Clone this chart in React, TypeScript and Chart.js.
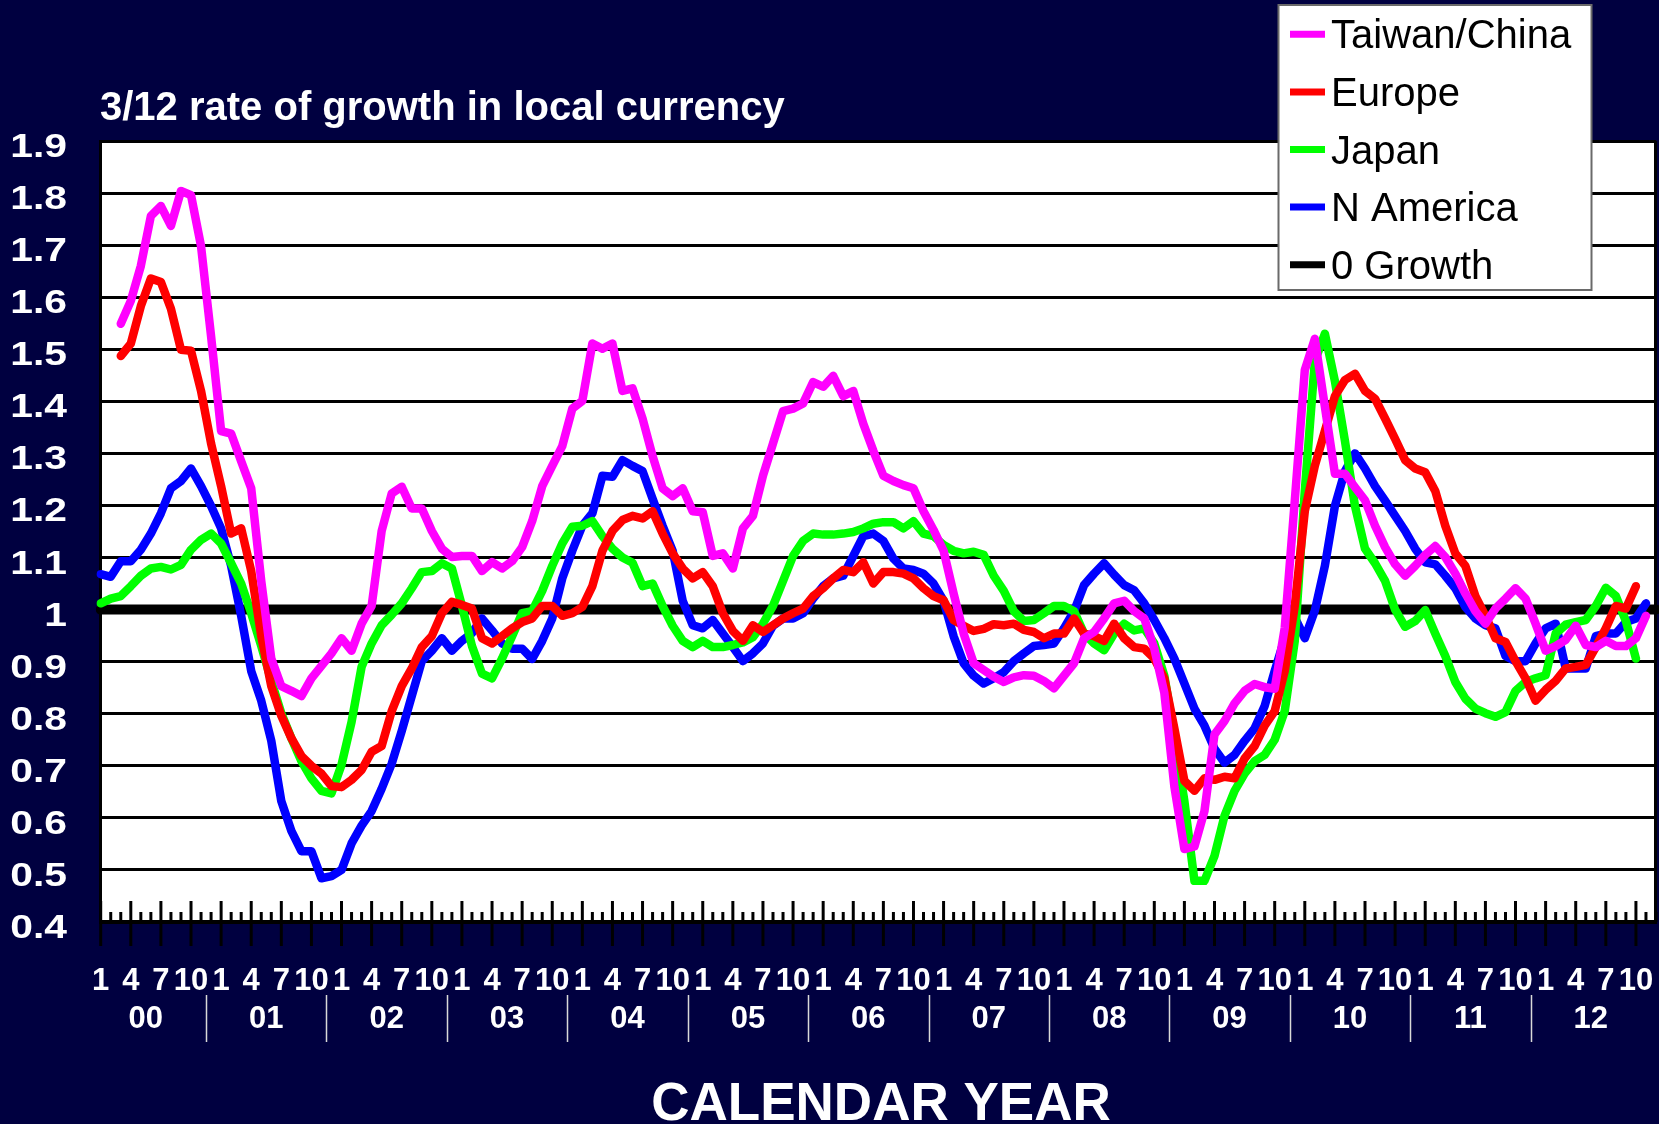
import React, { useEffect, useRef } from 'react';
import { Chart, registerables } from 'chart.js';

Chart.register(...registerables);

// ---------------- data ----------------
const years = ['00', '01', '02', '03', '04', '05', '06', '07', '08', '09', '10', '11', '12'];
const monthNumbers = [1, 2, 3, 4, 5, 6, 7, 8, 9, 10, 11, 12];
const labelledMonths = [1, 4, 7, 10];
const categories = years.flatMap((y) => monthNumbers.map((m) => `${m}/${y}`));

const yAxisMin = 0.4;
const yAxisMax = 1.9;
const yAxisStep = 0.1;
const zeroGrowthLevel = 1;

const titleText = '3/12 rate of growth in local currency';
const xAxisTitle = 'CALENDAR YEAR';

const taiwanChina = [
  null, null, 1.549, 1.593, 1.660, 1.756, 1.775, 1.737, 1.804, 1.796, 1.698, 1.525,
  1.343, 1.338, 1.285, 1.233, 1.055, 0.906, 0.853, 0.844, 0.834, 0.868, 0.892, 0.916,
  0.945, 0.921, 0.973, 1.007, 1.151, 1.223, 1.236, 1.194, 1.194, 1.151, 1.117, 1.101,
  1.103, 1.103, 1.074, 1.091, 1.079, 1.093, 1.120, 1.170, 1.237, 1.276, 1.314, 1.386,
  1.401, 1.511, 1.501, 1.511, 1.420, 1.425, 1.367, 1.295, 1.233, 1.218, 1.233, 1.189,
  1.187, 1.103, 1.108, 1.079, 1.156, 1.180, 1.257, 1.319, 1.381, 1.386, 1.396, 1.437,
  1.428, 1.449, 1.410, 1.420, 1.357, 1.305, 1.257, 1.247, 1.239, 1.233, 1.189, 1.153,
  1.113, 1.031, 0.954, 0.897, 0.884, 0.871, 0.861, 0.870, 0.874, 0.873, 0.863, 0.849,
  0.873, 0.897, 0.945, 0.957, 0.983, 1.012, 1.017, 0.997, 0.983, 0.925, 0.840, 0.660,
  0.540, 0.545, 0.613, 0.760, 0.786, 0.820, 0.844, 0.857, 0.851, 0.848, 0.965, 1.209,
  1.460, 1.520, 1.390, 1.261, 1.261, 1.235, 1.210, 1.161, 1.120, 1.087, 1.065, 1.084,
  1.105, 1.122, 1.101, 1.069, 1.031, 0.997, 0.973, 1.002, 1.021, 1.041, 1.021, 0.973,
  0.921, 0.930, 0.942, 0.969, 0.932, 0.928, 0.940, 0.930, 0.930, 0.945, 0.988, null,
];

const europe = [
  null, null, 1.487, 1.511, 1.583, 1.636, 1.629, 1.578, 1.499, 1.497, 1.420, 1.319,
  1.237, 1.146, 1.156, 1.074, 0.949, 0.853, 0.796, 0.753, 0.719, 0.700, 0.685, 0.661,
  0.659, 0.673, 0.692, 0.727, 0.738, 0.805, 0.853, 0.887, 0.928, 0.949, 0.993, 1.015,
  1.009, 1.002, 0.945, 0.935, 0.949, 0.964, 0.976, 0.983, 1.007, 1.007, 0.988, 0.993,
  1.005, 1.045, 1.113, 1.151, 1.172, 1.180, 1.175, 1.189, 1.146, 1.108, 1.079, 1.060,
  1.072, 1.045, 0.993, 0.959, 0.940, 0.970, 0.957, 0.970, 0.983, 0.993, 1.002, 1.026,
  1.041, 1.060, 1.076, 1.072, 1.091, 1.050, 1.072, 1.072, 1.069, 1.060, 1.041, 1.026,
  1.018, 0.980, 0.969, 0.959, 0.963, 0.972, 0.970, 0.973, 0.961, 0.957, 0.945, 0.954,
  0.954, 0.983, 0.954, 0.949, 0.940, 0.973, 0.945, 0.928, 0.925, 0.906, 0.868, 0.772,
  0.671, 0.652, 0.676, 0.673, 0.679, 0.676, 0.714, 0.738, 0.777, 0.805, 0.882, 1.007,
  1.189, 1.276, 1.343, 1.410, 1.441, 1.453, 1.420, 1.405, 1.367, 1.328, 1.287, 1.271,
  1.264, 1.228, 1.161, 1.108, 1.084, 1.026, 0.988, 0.945, 0.938, 0.901, 0.868, 0.825,
  0.846, 0.863, 0.887, 0.890, 0.894, 0.928, 0.964, 1.007, 1.002, 1.045, null, null,
];

const japan = [
  1.012, 1.021, 1.026, 1.045, 1.065, 1.079, 1.082, 1.077, 1.086, 1.115, 1.134, 1.146,
  1.127, 1.089, 1.050, 0.993, 0.930, 0.863, 0.801, 0.753, 0.709, 0.676, 0.652, 0.647,
  0.702, 0.784, 0.890, 0.935, 0.970, 0.990, 1.012, 1.041, 1.072, 1.074, 1.089, 1.079,
  1.007, 0.930, 0.877, 0.868, 0.906, 0.949, 0.993, 0.997, 1.036, 1.084, 1.127, 1.159,
  1.161, 1.170, 1.141, 1.117, 1.100, 1.090, 1.045, 1.050, 1.007, 0.969, 0.940, 0.928,
  0.940, 0.928, 0.928, 0.932, 0.937, 0.947, 0.973, 1.007, 1.055, 1.103, 1.132, 1.146,
  1.144, 1.144, 1.146, 1.149, 1.156, 1.165, 1.168, 1.168, 1.156, 1.170, 1.146, 1.141,
  1.124, 1.113, 1.108, 1.111, 1.105, 1.065, 1.036, 0.997, 0.978, 0.980, 0.993, 1.007,
  1.007, 0.997, 0.954, 0.935, 0.922, 0.954, 0.973, 0.960, 0.964, 0.935, 0.873, 0.757,
  0.632, 0.479, 0.479, 0.527, 0.604, 0.652, 0.685, 0.709, 0.721, 0.750, 0.805, 0.940,
  1.228, 1.477, 1.530, 1.439, 1.324, 1.199, 1.117, 1.089, 1.055, 1.000, 0.967, 0.978,
  0.999, 0.954, 0.911, 0.861, 0.829, 0.810, 0.801, 0.794, 0.803, 0.844, 0.861, 0.868,
  0.874, 0.954, 0.971, 0.976, 0.980, 1.007, 1.042, 1.026, 0.978, 0.906, null, null,
];

const nAmerica = [
  1.068, 1.063, 1.093, 1.093, 1.115, 1.146, 1.185, 1.233, 1.247, 1.271, 1.237, 1.199,
  1.156, 1.084, 0.988, 0.882, 0.825, 0.748, 0.632, 0.575, 0.536, 0.536, 0.484, 0.488,
  0.500, 0.551, 0.585, 0.613, 0.656, 0.704, 0.767, 0.834, 0.901, 0.921, 0.945, 0.921,
  0.940, 0.955, 0.983, 0.960, 0.935, 0.925, 0.925, 0.905, 0.940, 0.983, 1.060, 1.113,
  1.161, 1.185, 1.257, 1.255, 1.287, 1.276, 1.266, 1.213, 1.161, 1.113, 1.017, 0.970,
  0.964, 0.980, 0.954, 0.928, 0.901, 0.916, 0.935, 0.969, 0.983, 0.983, 0.993, 1.021,
  1.045, 1.060, 1.065, 1.103, 1.141, 1.146, 1.132, 1.098, 1.079, 1.076, 1.069, 1.050,
  1.017, 0.949, 0.897, 0.873, 0.858, 0.868, 0.880, 0.901, 0.916, 0.930, 0.932, 0.935,
  0.964, 0.997, 1.047, 1.069, 1.089, 1.067, 1.047, 1.037, 1.012, 0.980, 0.945, 0.906,
  0.858, 0.810, 0.777, 0.733, 0.706, 0.721, 0.748, 0.772, 0.815, 0.882, 0.945, 0.985,
  0.945, 0.998, 1.084, 1.199, 1.266, 1.300, 1.271, 1.237, 1.209, 1.180, 1.151, 1.117,
  1.091, 1.087, 1.065, 1.041, 1.005, 0.983, 0.970, 0.964, 0.911, 0.901, 0.901, 0.935,
  0.964, 0.973, 0.887, 0.887, 0.887, 0.949, 0.954, 0.954, 0.976, 0.983, 1.012, null,
];

const zeroGrowth = categories.map(() => zeroGrowthLevel);

// ---------------- styles ----------------
const NAVY = '#000040';
const FONT = '"Liberation Sans", Arial, Helvetica, sans-serif';

const seriesDefs = [
  { label: 'Taiwan/China', data: taiwanChina, color: '#FF00FF', width: 8.5 },
  { label: 'Europe', data: europe, color: '#FF0000', width: 8.5 },
  { label: 'Japan', data: japan, color: '#00FF00', width: 8.5 },
  { label: 'N America', data: nAmerica, color: '#0000FF', width: 8.5 },
  { label: '0 Growth', data: zeroGrowth, color: '#000000', width: 10 },
];

const fmt = (v: number) => String(Number(v.toFixed(1)));

const decorPlugin = {
  id: 'decor',
  beforeDraw(chart: any) {
    const { ctx, chartArea: a } = chart;
    ctx.save();
    ctx.fillStyle = NAVY;
    ctx.fillRect(0, 0, chart.width, chart.height);
    ctx.fillStyle = '#ffffff';
    ctx.fillRect(a.left, a.top, a.right - a.left, a.bottom - a.top);
    ctx.restore();
  },
  afterDraw(chart: any) {
    const { ctx, chartArea: a } = chart;
    const xs = chart.scales.x;
    const ys = chart.scales.y;
    ctx.save();

    // right border of plot
    ctx.strokeStyle = '#000000';
    ctx.lineWidth = 3;
    ctx.beginPath();
    ctx.moveTo(a.right - 0.5, a.top);
    ctx.lineTo(a.right - 0.5, a.bottom + 2);
    ctx.stroke();

    // monthly tick marks
    ctx.lineWidth = 3;
    categories.forEach((_, i) => {
      const px = xs.getPixelForValue(i);
      const m = monthNumbers[i % 12];
      const major = labelledMonths.includes(m);
      ctx.beginPath();
      if (major) {
        ctx.moveTo(px, a.bottom - 21);
        ctx.lineTo(px, a.bottom + 24);
      } else {
        ctx.moveTo(px, a.bottom - 10);
        ctx.lineTo(px, a.bottom);
      }
      ctx.stroke();
    });

    // month labels
    ctx.fillStyle = '#ffffff';
    ctx.font = `bold 31px ${FONT}`;
    ctx.textAlign = 'center';
    ctx.textBaseline = 'alphabetic';
    categories.forEach((_, i) => {
      const m = monthNumbers[i % 12];
      if (!labelledMonths.includes(m)) return;
      ctx.fillText(String(m), xs.getPixelForValue(i), a.bottom + 68);
    });

    // year labels and separators
    years.forEach((y, k) => {
      ctx.fillStyle = '#ffffff';
      ctx.fillText(y, xs.getPixelForValue(k * 12 + 4.5), a.bottom + 106);
      if (k < years.length - 1) {
        const sx = Math.round(xs.getPixelForValue(k * 12 + 10.5)) + 0.5;
        ctx.strokeStyle = '#d8d8d8';
        ctx.lineWidth = 1.5;
        ctx.beginPath();
        ctx.moveTo(sx, a.bottom + 73);
        ctx.lineTo(sx, a.bottom + 120);
        ctx.stroke();
      }
    });

    // y labels (slightly stretched as in the original)
    ctx.fillStyle = '#ffffff';
    ctx.font = `bold 34px ${FONT}`;
    ctx.textAlign = 'right';
    ys.ticks.forEach((t: any) => {
      const py = ys.getPixelForValue(t.value);
      ctx.save();
      ctx.translate(67, py + 16);
      ctx.scale(1.2, 1);
      ctx.fillText(fmt(t.value), 0, 0);
      ctx.restore();
    });

    // title
    ctx.textAlign = 'left';
    ctx.font = `bold 40px ${FONT}`;
    ctx.fillText(titleText, 100, 120);

    // x axis title
    ctx.textAlign = 'center';
    ctx.font = `bold 53px ${FONT}`;
    ctx.fillText(xAxisTitle, 881, 1120);

    // legend
    const lx = 1278.5, ly = 5, lw = 313, lh = 285;
    ctx.fillStyle = '#ffffff';
    ctx.fillRect(lx, ly, lw, lh);
    ctx.strokeStyle = '#6a6a6a';
    ctx.lineWidth = 2;
    ctx.strokeRect(lx, ly, lw, lh);
    ctx.font = `40px ${FONT}`;
    ctx.textAlign = 'left';
    chart.data.datasets.forEach((ds: any, k: number) => {
      const base = 48.3 + k * 57.6;
      ctx.strokeStyle = ds.borderColor;
      ctx.lineWidth = 7;
      ctx.lineCap = 'butt';
      ctx.beginPath();
      ctx.moveTo(1290, base - 14);
      ctx.lineTo(1325, base - 14);
      ctx.stroke();
      ctx.fillStyle = '#000000';
      ctx.fillText(ds.label, 1331, base);
    });

    ctx.restore();
  },
};

export default function App() {
  const ref = useRef<HTMLCanvasElement | null>(null);

  useEffect(() => {
    document.body.style.margin = '0';
    const canvas = ref.current;
    if (!canvas) return;
    const chart = new Chart(canvas, {
      type: 'line',
      data: {
        labels: categories,
        datasets: seriesDefs.map((s) => ({
          label: s.label,
          data: s.data as (number | null)[],
          borderColor: s.color,
          backgroundColor: s.color,
          borderWidth: s.width,
          pointRadius: 0,
          pointHoverRadius: 0,
          tension: 0,
          fill: false,
          spanGaps: false,
          borderJoinStyle: 'round' as const,
          borderCapStyle: 'round' as const,
        })),
      },
      options: {
        animation: false,
        responsive: false,
        devicePixelRatio: 1,
        events: [],
        layout: { padding: { top: 141, right: 3, left: 0, bottom: 0 } },
        plugins: {
          legend: { display: false },
          title: { display: false },
          tooltip: { enabled: false },
        },
        scales: {
          x: {
            type: 'category',
            offset: false,
            grid: { display: false, drawTicks: false },
            border: { display: true, color: '#000000', width: 4 },
            ticks: { display: false, autoSkip: false },
            afterFit: (scale: any) => {
              scale.height = 202;
            },
          },
          y: {
            type: 'linear',
            min: yAxisMin,
            max: yAxisMax,
            ticks: { display: false, stepSize: yAxisStep },
            grid: { color: '#000000', lineWidth: 3, drawTicks: false },
            border: { display: true, color: '#000000', width: 3 },
            afterFit: (scale: any) => {
              scale.width = 100.7;
            },
          },
        },
      },
      plugins: [decorPlugin],
    });
    return () => chart.destroy();
  }, []);

  return (
    <div style={{ position: 'fixed', left: 0, top: 0, width: 1659, height: 1124, background: NAVY }}>
      <canvas ref={ref} width={1659} height={1124} style={{ display: 'block', width: 1659, height: 1124 }} />
    </div>
  );
}
